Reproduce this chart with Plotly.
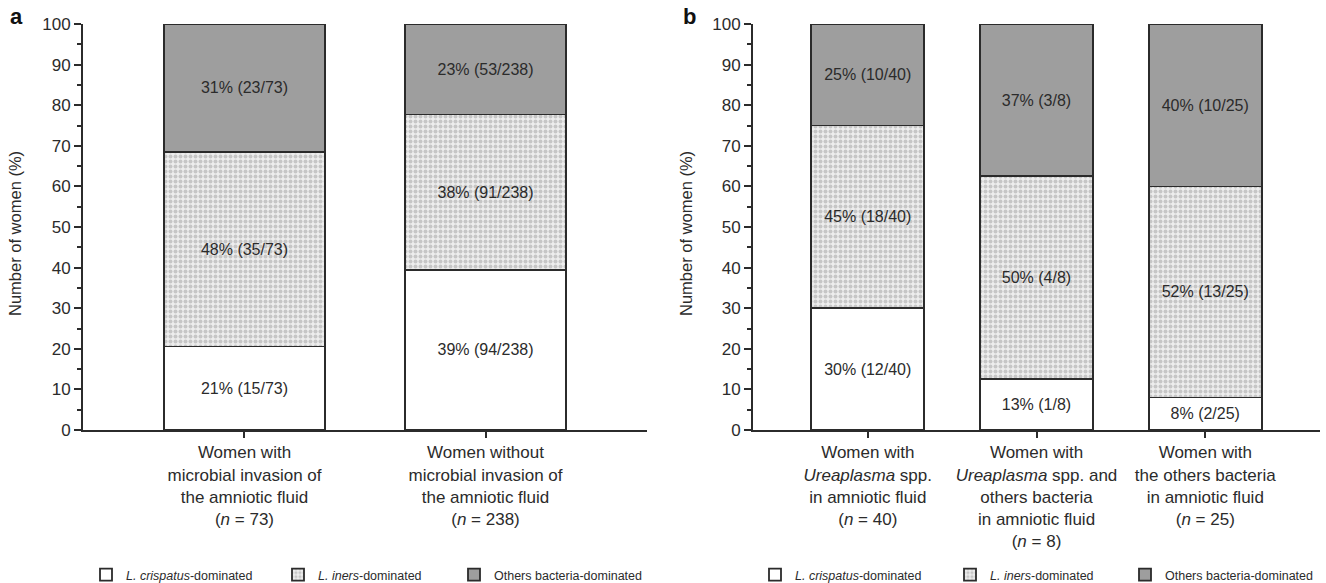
import plotly.graph_objects as go

# ---------------- data ----------------
cats_a = ["Women with<br>microbial invasion of<br>the amniotic fluid<br>(<i>n</i> = 73)",
          "Women without<br>microbial invasion of<br>the amniotic fluid<br>(<i>n</i> = 238)"]
n_a = [73, 238]
crisp_a = [15, 94]
iners_a = [35, 91]
others_a = [23, 53]
crisp_a_pct = [21, 39]
iners_a_pct = [48, 38]
others_a_pct = [31, 23]

cats_b = ["Women with<br><i>Ureaplasma</i> spp.<br>in amniotic fluid<br>(<i>n</i> = 40)",
          "Women with<br><i>Ureaplasma</i> spp. and<br>others bacteria<br>in amniotic fluid<br>(<i>n</i> = 8)",
          "Women with<br>the others bacteria<br>in amniotic fluid<br>(<i>n</i> = 25)"]
n_b = [40, 8, 25]
crisp_b = [12, 1, 2]
iners_b = [18, 4, 13]
others_b = [10, 3, 10]
crisp_b_pct = [30, 13, 8]
iners_b_pct = [45, 50, 52]
others_b_pct = [25, 37, 40]

series_names = ["<i>L. crispatus</i>-dominated", "<i>L. iners</i>-dominated", "Others bacteria-dominated"]

# ---------------- styles ----------------
W, H = 1326, 583
FONT = "Liberation Sans, Arial, Helvetica, sans-serif"
INK = "#2b2b2b"
LINE_W = 1.8

# left pixel position of each legend entry (panel a, panel b)
legend_px_a = [86, 278, 454]
legend_px_b = [755, 950, 1125]

def marker_for(i):
    if i == 0:
        return dict(color="#ffffff", line=dict(color=INK, width=LINE_W))
    if i == 1:
        return dict(color="#eeeeee", line=dict(color=INK, width=LINE_W),
                    pattern=dict(shape=".", fgcolor="#c6c6c6", bgcolor="#eeeeee",
                                 size=5, solidity=0.5))
    return dict(color="#9e9e9e", line=dict(color=INK, width=LINE_W))

fig = go.Figure()
legend_layout = {}
legend_counter = [0]

def add_panel(cats, n, counts_list, pct_list, xaxis, yaxis, leg_px):
    for i, (counts, pcts) in enumerate(zip(counts_list, pct_list)):
        vals = [c / t * 100 for c, t in zip(counts, n)]
        labels = [f"{p}% ({c}/{t})" for p, c, t in zip(pcts, counts, n)]
        legend_counter[0] += 1
        k = legend_counter[0]
        lname = "legend" if k == 1 else f"legend{k}"
        legend_layout[lname] = dict(
            orientation="h", x=leg_px[i] / W, xanchor="left",
            y=(583 - 575) / H, yanchor="middle", traceorder="normal", visible=True,
            font=dict(family=FONT, size=12.5, color=INK), bgcolor="rgba(0,0,0,0)")
        fig.add_trace(go.Bar(
            x=cats, y=vals, name=series_names[i], text=labels,
            textposition="inside", insidetextanchor="middle", constraintext="none",
            textangle=0, showlegend=True,
            textfont=dict(family=FONT, size=16, color=INK),
            marker=marker_for(i), xaxis=xaxis, yaxis=yaxis, legend=lname,
            hoverinfo="skip"))

add_panel(cats_a, n_a, [crisp_a, iners_a, others_a],
          [crisp_a_pct, iners_a_pct, others_a_pct], "x", "y", legend_px_a)
add_panel(cats_b, n_b, [crisp_b, iners_b, others_b],
          [crisp_b_pct, iners_b_pct, others_b_pct], "x2", "y2", legend_px_b)

ydom = [1 - 430 / H, 1 - 24 / H]

xax_common = dict(showline=True, linecolor=INK, linewidth=2, ticks="outside",
                  ticklen=6, tickwidth=2, tickcolor=INK, showgrid=False,
                  zeroline=False, automargin=False,
                  tickfont=dict(family=FONT, size=17, color=INK))
yax_common = dict(range=[0, 100], tickmode="linear", tick0=0, dtick=10,
                  showline=True, linecolor=INK, linewidth=2, ticks="outside",
                  ticklen=7, tickwidth=2, tickcolor=INK, showgrid=False,
                  zeroline=False, automargin=False,
                  minor=dict(dtick=5, ticks="outside", ticklen=4, tickwidth=2, tickcolor=INK),
                  tickfont=dict(family=FONT, size=17, color=INK))

fig.update_layout(
    width=W, height=H, template="none", showlegend=True,
    margin=dict(l=0, r=0, t=0, b=0, autoexpand=False),
    paper_bgcolor="white", plot_bgcolor="white",
    barmode="stack", bargap=0.33,
    font=dict(family=FONT, color=INK),
    xaxis=dict(domain=[83 / W, 647 / W], range=[-0.67, 1.67], anchor="y", **xax_common),
    yaxis=dict(domain=ydom, anchor="x", **yax_common),
    xaxis2=dict(domain=[753 / W, 1320 / W], range=[-0.68, 2.68], anchor="y2", **xax_common),
    yaxis2=dict(domain=ydom, anchor="x2", **yax_common),
    annotations=[
        dict(text="<b>a</b>", x=16.5 / W, y=1 - 17 / H, xref="paper", yref="paper",
             xanchor="center", yanchor="middle",
             showarrow=False, font=dict(family=FONT, size=22, color="#111")),
        dict(text="<b>b</b>", x=689 / W, y=1 - 17 / H, xref="paper", yref="paper",
             xanchor="center", yanchor="middle",
             showarrow=False, font=dict(family=FONT, size=22, color="#111")),
        dict(text="Number of women (%)", x=15 / W, y=1 - 234 / H, xref="paper", yref="paper",
             xanchor="center", yanchor="middle",
             showarrow=False, textangle=-90, font=dict(family=FONT, size=16.5, color=INK)),
        dict(text="Number of women (%)", x=686 / W, y=1 - 234 / H, xref="paper", yref="paper",
             xanchor="center", yanchor="middle",
             showarrow=False, textangle=-90, font=dict(family=FONT, size=16.5, color=INK)),
    ],
    **legend_layout,
)

fig.write_html("out.html")
